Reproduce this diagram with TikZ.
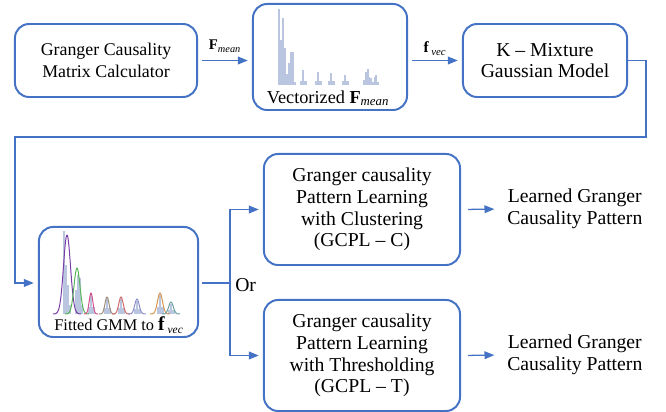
\documentclass[tikz,border=0pt]{standalone}
\usepackage{fontspec}
\setmainfont{Liberation Serif}
\usetikzlibrary{arrows.meta}
\definecolor{boxblue}{HTML}{4472C4}
\definecolor{barblue}{HTML}{BAC6E0}
\definecolor{gmmpurple}{HTML}{7A3EA8}
\definecolor{gmmgreen}{HTML}{55B555}
\definecolor{gmmpink}{HTML}{D4508C}
\definecolor{gmmtaupe}{HTML}{9C8C7C}
\definecolor{gmmred}{HTML}{D06A6A}
\definecolor{gmmviolet}{HTML}{8C8CC8}
\definecolor{gmmorange}{HTML}{D8954C}
\definecolor{gmmteal}{HTML}{6AA0A0}
\begin{document}
\begin{tikzpicture}[x=0.025cm,y=-0.025cm,
    block/.style={draw=boxblue,line width=1.4pt,rounded corners=10pt,align=center,inner sep=0pt},
    arr/.style={draw=boxblue,line width=0.9pt,-{Triangle[length=7pt,width=5.5pt]},shorten <=3pt,shorten >=3pt},
    bar/.style={fill=barblue},
    big/.style={font=\fontsize{14}{15.4}\selectfont,align=center},
    smalltxt/.style={font=\fontsize{12.7}{15.4}\selectfont,align=center}]
    \useasboundingbox (0,0) rectangle (666,412);
    % Blocos de cima
    \node[block,smalltxt,minimum width=4.55cm,minimum height=1.825cm] (gcmc) at (106,60.5) {Granger Causality\\Matrix Calculator};
    \node[block,minimum width=3.85cm,minimum height=2.65cm] (vecbox) at (330,57) {};
    \node[block,big,minimum width=4.1cm,minimum height=1.825cm] (kmgm) at (545,60.5) {K -- Mixture\\Gaussian Model};
    % Histograma do vetor
    \foreach \x/\t in {279/9, 281/40, 283/18, 285/48, 287/74, 289/63, 291/52, 293/52, 295/82}
        \fill[bar] (\x-1,85) rectangle (\x+1,\t);
    \foreach \c/\t in {303/70, 318/72, 331/73, 345/75} {
        \fill[bar] (\c-0.9,85) rectangle (\c+0.9,\t);
        \fill[bar] (\c-3.5,85) rectangle (\c+3.5,81);
    }
    \foreach \x/\t in {364.3/80, 366/72, 367.7/69, 369.4/77, 371.1/78, 372.8/82, 374.5/77, 376.2/75, 377.9/82}
        \fill[bar] (\x-0.85,85) rectangle (\x+0.85,\t);
    \node[font=\fontsize{13}{15}\selectfont,inner sep=1pt] (vectxt) at (328,98) {Vectorized \textbf{F}\textsubscript{\itshape mean}};
    % Bloco GMM
    \node[block,minimum width=3.975cm,minimum height=2.75cm] (gmmbox) at (118.5,282) {};
    \foreach \x/\t in {63.5/231, 65.7/265, 68/285, 70/305, 76/290, 78/275, 80/278, 82/305}
        \fill[bar] (\x-1,314) rectangle (\x+1,\t);
    \foreach \m/\a in {91/21, 107/17, 121/17, 137/15, 160/21, 171/12} {
        \fill[bar] (\m-1,314) rectangle (\m+1,314-\a+2);
        \fill[bar] (\m-3.5,314) rectangle (\m+3.5,314-\a/3);
    }
    \foreach \m/\a/\s/\c in {67/79/3.5/gmmpurple, 77/46/3/gmmgreen, 91/21/1.8/gmmpink, 107/17/2/gmmtaupe, 121/17/2.2/gmmred, 137/15/2.2/gmmviolet, 160/21/2.5/gmmorange, 171/12/2.3/gmmteal}
        \draw[\c,line width=0.7pt,domain={\m-4*\s}:{\m+4*\s},samples=40,smooth] plot (\x,{314-\a*exp(-((\x-\m)/\s)^2/2)});
    \node[font=\fontsize{11.6}{14}\selectfont,inner sep=1pt] (gmmtxt) at (119,325) {Fitted GMM to {\fontsize{14}{14}\selectfont\textbf{f}}\,\textsubscript{\itshape vec}};
    % Blocos GCPL
    \node[block,big,minimum width=4.9cm,minimum height=2.775cm] (gcplc) at (362,209.5) {Granger causality\\Pattern Learning\\with Clustering\\(GCPL -- C)};
    \node[block,big,minimum width=4.9cm,minimum height=2.775cm] (gcplt) at (362,355.5) {Granger causality\\Pattern Learning\\with Thresholding\\(GCPL -- T)};
    \node[big,anchor=west,inner sep=0pt] (learnc) at (507,209) {Learned Granger\\Causality Pattern};
    \node[big,anchor=west,inner sep=0pt] (learnt) at (507,355) {Learned Granger\\Causality Pattern};
    % Setas
    \draw[arr] (gcmc) -- node[above=2pt,font=\fontsize{10.5}{12}\selectfont]{\textbf{F}\textsubscript{\itshape mean}} (vecbox.west |- gcmc);
    \draw[arr] (vecbox.east |- kmgm) -- node[above=0pt,font=\fontsize{11}{12}\selectfont]{\textbf{f}\,\textsubscript{\itshape vec}} (kmgm);
    % Volta para o GMM
    \coordinate (bendl) at (15,137);
    \coordinate (split) at (230,283);
    \draw[arr,shorten <=0pt] (kmgm.east) -- ++(18,0) |- (bendl) |- (split -| gmmbox.west);
    % Ramos
    \draw[boxblue,line width=0.9pt,shorten <=2pt] (split -| gmmbox.east) -- (split);
    \draw[arr,shorten <=0pt] (split) |- (gcplc.west);
    \draw[arr,shorten <=0pt] (split) |- (gcplt.west);
    \node[big,anchor=west,inner sep=0pt] (ortxt) at (235,285) {Or};
    \draw[arr,shorten <=5pt,shorten >=9pt] (gcplc.east) -- (learnc.west);
    \draw[arr,shorten <=5pt,shorten >=9pt] (gcplt.east) -- (learnt.west);
\end{tikzpicture}
\end{document}
